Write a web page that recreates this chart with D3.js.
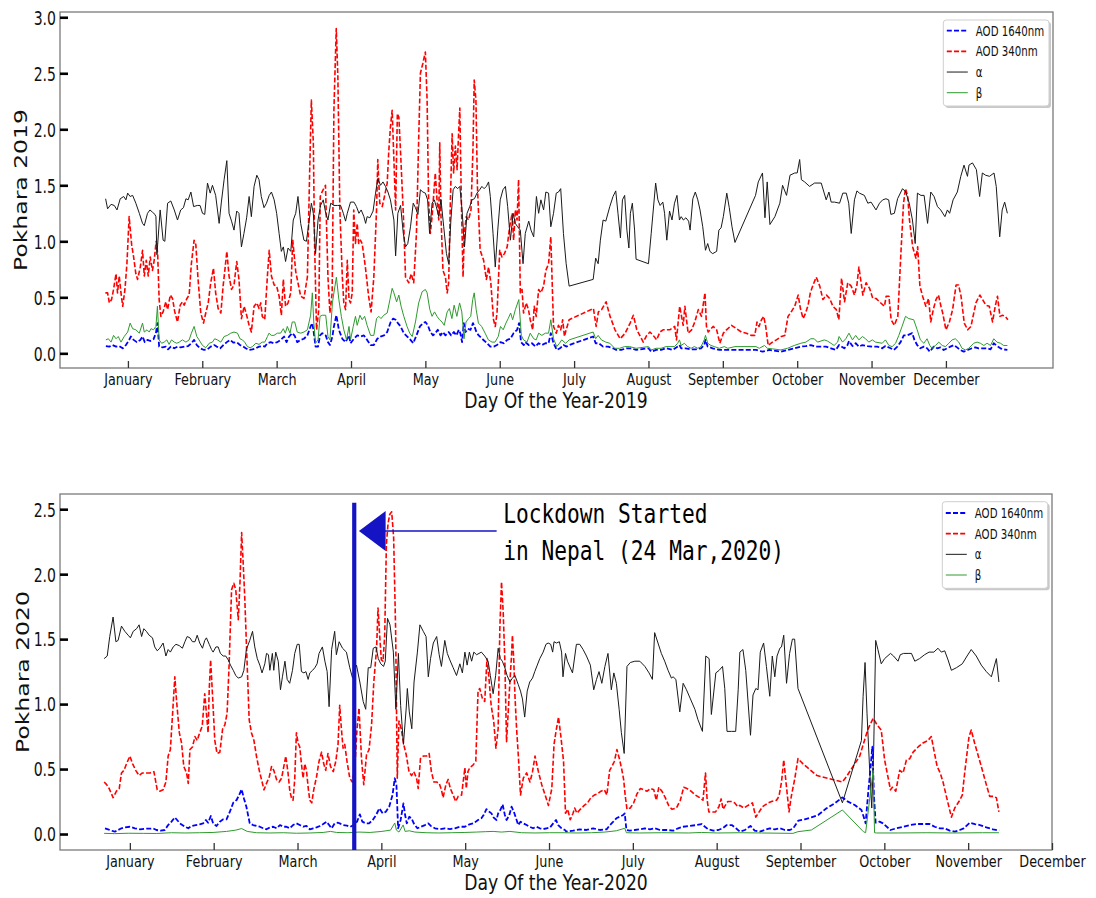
<!DOCTYPE html>
<html>
<head>
<meta charset="utf-8">
<script src="https://cdn.jsdelivr.net/npm/d3@7"></script>
<style>
  html, body { margin: 0; padding: 0; background: #fff; }
  svg { display: block; }
</style>
</head>
<body>
<svg id="fig" width="1096" height="898"></svg>
<script>
// ---- tick labels and annotation text ----
const monthLabels = ["January","February","March","April","May","June","July","August","September","October","November","December"];
const monthTickDays = [10,40,70,100,130,160,190,220,250,280,310,340];
const yTicks2019 = [0,0.5,1.0,1.5,2.0,2.5,3.0];
const yTicks2020 = [0,0.5,1.0,1.5,2.0,2.5];
const legendLabels = ["AOD 1640nm","AOD 340nm","\u03b1","\u03b2"];
const lockdownDay2020 = 90.3;
const lockdownText = ["Lockdown Started","in Nepal (24 Mar,2020)"];

// ---- Pokhara 2019: [day, value] ----
const aod1640_2019 = [[1.1,0.065],[2.5,0.06],[3.8,0.074],[5.2,0.06],[6.5,0.065],[7.9,0.045],[9.2,0.074],[10.5,0.12],[11.2,0.15],[12.3,0.12],[13.6,0.10],[15,0.12],[15.9,0.15],[16.8,0.10],[17.9,0.12],[19,0.11],[20.3,0.125],[21.3,0.18],[21.9,0.27],[22.6,0.06],[24,0.053],[25.3,0.06],[26.2,0.035],[27.3,0.06],[28.7,0.045],[30,0.06],[31.3,0.053],[33,0.06],[34.3,0.065],[35.6,0.09],[36.7,0.12],[37.8,0.074],[39.1,0.045],[40.7,0.03],[42.1,0.035],[43.4,0.06],[44.8,0.074],[45.8,0.06],[47.2,0.045],[48.5,0.074],[49.9,0.10],[51.2,0.12],[52.6,0.095],[53.9,0.10],[55.2,0.074],[56.2,0.065],[57.5,0.045],[58.9,0.03],[60.2,0.035],[61.6,0.045],[62.9,0.06],[64.2,0.065],[65.2,0.06],[66.3,0.09],[67.6,0.10],[68.9,0.09],[70.3,0.10],[71.6,0.12],[73,0.15],[74,0.10],[75,0.15],[76.3,0.18],[77.3,0.155],[78.3,0.10],[79.7,0.12],[81,0.13],[82.4,0.16],[83.7,0.24],[84.4,0.27],[85,0.18],[85.7,0.06],[86.7,0.06],[87.5,0.16],[88.4,0.18],[89.8,0.16],[90.7,0.10],[91.5,0.074],[92.5,0.15],[93.1,0.24],[94.1,0.34],[95.1,0.21],[96.5,0.13],[97.8,0.10],[99.2,0.16],[99.8,0.09],[101.2,0.13],[102.5,0.16],[103.9,0.15],[105.2,0.16],[106.5,0.12],[107.9,0.074],[109.2,0.074],[110.6,0.13],[111.9,0.15],[113.3,0.16],[114.6,0.19],[116,0.28],[117,0.31],[118,0.30],[118.9,0.27],[120,0.24],[121.3,0.18],[122.7,0.15],[124,0.12],[125.1,0.09],[126.4,0.16],[127.8,0.24],[129.1,0.27],[130,0.28],[131,0.25],[132,0.19],[133.1,0.16],[134,0.18],[135,0.21],[136.1,0.16],[137.1,0.19],[138.1,0.16],[139.4,0.19],[140.4,0.16],[141.5,0.19],[142.5,0.16],[143.5,0.21],[144.1,0.18],[144.8,0.10],[145.5,0.27],[146.2,0.19],[147.1,0.22],[148.2,0.21],[149.2,0.27],[149.8,0.24],[150.6,0.19],[151.5,0.16],[152.9,0.13],[154.9,0.09],[156.2,0.06],[157.6,0.06],[158.9,0.074],[160.3,0.10],[161.6,0.09],[163,0.12],[164.3,0.13],[165.6,0.18],[167,0.21],[167.8,0.27],[168.6,0.10],[169.7,0.074],[170.3,0.10],[171.7,0.074],[173,0.09],[174.4,0.06],[175.7,0.09],[177,0.074],[178.4,0.09],[179.7,0.09],[180.6,0.18],[181.7,0.09],[183,0.03],[184.3,0.045],[185.7,0.074],[187,0.06],[188,0.074],[197.7,0.15],[198.7,0.09],[200,0.09],[201.7,0.06],[203.7,0.06],[205.7,0.045],[207,0.03],[209,0.03],[211.1,0.045],[213.1,0.045],[215,0.03],[220,0.045],[221.1,0.015],[223.1,0.03],[225.1,0.03],[227.1,0.045],[229.8,0.03],[231.8,0.06],[232.5,0.074],[233.2,0.045],[235.1,0.045],[237.2,0.036],[239.2,0.036],[241.2,0.045],[242.5,0.074],[243,0.12],[243.9,0.06],[245.9,0.045],[248.6,0.03],[251.3,0.03],[254.9,0.03],[263.4,0.03],[266,0.015],[268.7,0.03],[273.4,0.015],[276.1,0.03],[278.8,0.045],[281.5,0.06],[283.5,0.065],[285.5,0.074],[287.5,0.06],[289.6,0.06],[291.6,0.06],[293.6,0.045],[295.6,0.03],[296.9,0.074],[299,0.045],[300.3,0.074],[300.9,0.11],[302.3,0.065],[303.6,0.09],[304.9,0.06],[306.3,0.074],[308.3,0.065],[310.3,0.06],[312.3,0.06],[314.3,0.045],[315.6,0.065],[317.7,0.045],[319,0.03],[320.4,0.06],[321.7,0.10],[323,0.16],[324.4,0.16],[326.4,0.18],[327.3,0.12],[328.4,0.074],[329.7,0.045],[331.1,0.06],[332.4,0.045],[333.5,0.015],[335.1,0.06],[336.5,0.045],[337.8,0.053],[339.1,0.03],[340.5,0.045],[341.8,0.06],[343.2,0.074],[344.5,0.053],[345.8,0.03],[347.2,0.015],[348.8,0.03],[350.5,0.045],[351.9,0.053],[353.2,0.045],[356.6,0.045],[358,0.035],[359.3,0.09],[360.6,0.065],[362,0.045],[363.3,0.035],[364.8,0.03]];

const aod340_2019 = [[0.9,0.54],[1.8,0.54],[2.5,0.45],[3.4,0.48],[4.2,0.57],[5.2,0.71],[5.8,0.54],[6.5,0.69],[7.2,0.54],[7.9,0.42],[8.8,0.57],[9.6,0.80],[10.5,1.22],[11.5,0.97],[12.3,0.86],[13.2,0.71],[13.9,0.66],[15,0.77],[15.9,0.92],[16.6,0.69],[17.4,0.83],[18.2,0.69],[19,0.86],[19.9,0.74],[20.6,0.83],[21.4,1.00],[22,0.89],[22.6,0.48],[23.3,0.33],[24.2,0.37],[25.3,0.46],[26,0.39],[27.1,0.52],[28,0.49],[28.9,0.37],[30,0.28],[31.1,0.43],[32,0.46],[32.7,0.43],[33.8,0.49],[34.7,0.52],[35.6,0.80],[36.7,1.01],[37.4,0.97],[38.3,0.66],[39.4,0.36],[40.5,0.27],[41.4,0.36],[42.4,0.45],[43.4,0.63],[44.5,0.76],[45.4,0.54],[46.4,0.40],[47.5,0.36],[48.4,0.60],[49.1,0.74],[49.9,0.91],[50.8,0.69],[51.8,0.57],[52.8,0.61],[53.9,0.82],[54.8,0.66],[55.8,0.31],[56.9,0.42],[57.9,0.34],[58.9,0.25],[59.8,0.19],[60.9,0.42],[62,0.45],[62.9,0.40],[63.6,0.45],[64.2,0.33],[65.2,0.30],[66.3,0.70],[67,0.92],[67.9,0.69],[69,0.61],[70,0.60],[71,0.51],[71.9,0.34],[72.7,0.66],[73.6,0.42],[74.6,0.45],[75.7,0.54],[76.5,1.01],[77.7,0.73],[78.6,0.63],[79.7,0.51],[81,0.49],[82.4,0.68],[83.3,1.60],[84,2.26],[84.8,1.88],[85.3,0.98],[86.1,0.21],[87,0.39],[87.6,1.40],[88.3,1.44],[89.7,1.50],[90.7,0.68],[91.5,0.36],[92.4,0.54],[93.1,2.17],[94.05,2.90],[94.7,2.47],[95.5,1.28],[96.5,0.68],[97.1,0.45],[97.8,0.39],[98.5,0.83],[99.2,0.48],[99.8,0.45],[100.5,0.54],[101.1,1.28],[101.8,0.98],[102.5,1.16],[103.1,0.98],[103.8,1.01],[104.5,0.98],[105.8,0.77],[107.1,0.51],[108.1,0.37],[109.2,0.68],[110.3,1.28],[110.8,1.73],[111.6,1.34],[112.6,1.31],[113.5,1.40],[114.6,1.52],[115.2,1.79],[115.9,2.02],[116.6,2.17],[117.3,1.73],[118,1.28],[118.7,2.14],[119.3,2.11],[120,1.79],[121.1,1.25],[122,0.68],[123.3,0.63],[124.3,0.71],[125.3,0.63],[126.4,1.07],[127.3,1.91],[128,2.50],[129,2.59],[130,2.69],[130.7,2.26],[131.3,1.37],[132,1.07],[132.7,1.22],[133.4,1.43],[134,1.61],[134.7,1.37],[135.4,1.19],[135.8,1.88],[136.3,1.22],[137.1,0.74],[138.1,0.68],[138.8,0.54],[139.4,0.63],[140.1,1.37],[140.8,1.96],[141.4,1.61],[142.1,1.85],[142.8,1.64],[143.4,1.96],[143.9,2.19],[144.5,1.37],[145.2,0.68],[145.7,1.07],[146.5,1.22],[147.4,1.19],[148.4,1.28],[149.2,1.82],[149.7,2.44],[150.4,2.26],[151,1.49],[152.1,0.92],[153.5,0.83],[154.6,0.66],[155.5,0.77],[156.4,0.63],[157.5,0.30],[158.2,0.24],[158.9,0.36],[160,0.92],[160.9,0.86],[161.9,0.89],[163,0.95],[164,1.13],[165,1.25],[165.6,1.01],[166.3,1.28],[167,1.19],[167.6,1.55],[168.3,0.54],[169,0.57],[169.6,0.36],[170.7,0.45],[171.6,0.39],[172.3,0.30],[173.3,0.21],[173.9,0.42],[174.7,0.33],[175.7,0.57],[176.6,0.54],[177.7,0.60],[178.6,0.74],[179.7,0.80],[180.6,1.04],[181.7,0.24],[182.8,0.18],[183.7,0.25],[184.6,0.21],[185.4,0.30],[186.1,0.15],[186.8,0.21],[188,0.30],[197.8,0.40],[198.9,0.24],[199.8,0.37],[201.1,0.39],[202.9,0.46],[204.5,0.33],[206.5,0.21],[208.6,0.13],[210.6,0.18],[212.6,0.27],[213.9,0.34],[215.3,0.21],[217.9,0.10],[219.3,0.16],[220.6,0.19],[221.9,0.16],[223.3,0.12],[224.6,0.19],[225.9,0.21],[228.6,0.21],[230.6,0.24],[231.3,0.12],[232.6,0.42],[234,0.25],[234.7,0.42],[236,0.18],[237.4,0.21],[238.7,0.28],[240.1,0.39],[241.4,0.33],[242.8,0.54],[243.4,0.24],[244.1,0.19],[246.1,0.24],[247.5,0.21],[248.8,0.09],[250.2,0.18],[251.5,0.21],[253.5,0.25],[255.5,0.22],[257.5,0.19],[259.5,0.18],[261.5,0.16],[262.9,0.16],[263.8,0.28],[264.6,0.24],[265.6,0.30],[266.5,0.33],[267.3,0.24],[268.3,0.07],[270,0.10],[271.6,0.12],[273.6,0.15],[275,0.16],[276.3,0.33],[277.3,0.36],[279,0.42],[280.4,0.52],[281.3,0.40],[282.4,0.31],[283.4,0.36],[284.4,0.43],[285.3,0.54],[286.4,0.61],[287.7,0.68],[289.1,0.60],[290.4,0.48],[291.8,0.52],[293.1,0.49],[294.4,0.42],[295.8,0.39],[296.8,0.30],[297.9,0.67],[299.1,0.46],[300.4,0.63],[301.8,0.60],[303.1,0.52],[304.1,0.61],[304.9,0.77],[305.8,0.63],[306.5,0.52],[307.8,0.63],[309.2,0.58],[310.5,0.49],[311.8,0.49],[313.2,0.46],[315.2,0.42],[315.9,0.51],[317,0.51],[317.9,0.30],[319.2,0.25],[320.6,0.33],[321.9,0.92],[322.9,1.34],[323.7,1.47],[324.6,1.40],[325.3,1.19],[326.6,0.95],[327.9,0.85],[328.6,0.95],[329.5,0.60],[330.6,0.51],[331.9,0.42],[333,0.49],[333.9,0.28],[334.9,0.39],[336,0.48],[337,0.52],[338,0.42],[338.7,0.36],[340,0.21],[341.4,0.28],[342.7,0.39],[344.1,0.61],[345.1,0.61],[346.1,0.51],[347.4,0.27],[348.8,0.21],[350.1,0.24],[352.1,0.45],[353.7,0.52],[354.8,0.48],[356.1,0.43],[357.5,0.42],[358.8,0.28],[359.9,0.42],[360.8,0.51],[361.8,0.33],[362.8,0.34],[363.9,0.33],[365,0.30]];

const alpha2019 = [[1,1.38],[1.8,1.29],[3.2,1.33],[4.5,1.32],[5.6,1.28],[6.9,1.38],[8.3,1.40],[9.2,1.37],[9.9,1.43],[10.9,1.40],[11.9,1.41],[13.2,1.34],[14.6,1.25],[15.9,1.16],[16.6,1.14],[17.9,1.25],[18.9,1.28],[19.9,1.26],[20.9,1.24],[21.3,1.22],[21.7,0.88],[23,1.28],[24.2,1.01],[24.9,1.00],[26,1.34],[27.3,1.36],[28.7,1.28],[30,1.19],[31.3,1.28],[32.4,1.30],[33.4,1.38],[34.3,1.37],[35.4,1.44],[36.5,1.31],[38,1.32],[39.1,1.32],[40.1,1.25],[41,1.24],[42.1,1.52],[43.2,1.43],[44.1,1.50],[45.4,1.41],[46.8,1.16],[47.7,1.35],[48.8,1.55],[49.9,1.72],[50.8,1.25],[51.8,1.18],[52.8,1.10],[53.9,1.27],[54.8,1.25],[55.8,0.95],[56.8,1.07],[57.9,1.21],[58.9,1.40],[59.8,1.22],[60.9,1.49],[62,1.59],[62.9,1.55],[63.8,1.40],[64.9,1.30],[65.9,1.34],[67,1.41],[67.9,1.44],[69,1.37],[70,1.25],[71,1.07],[71.9,0.91],[72.7,0.95],[73.6,0.82],[74.6,0.94],[75.7,0.91],[76.7,1.19],[77.7,1.25],[78.6,1.40],[79.7,1.16],[81,1.01],[82,1.00],[83,1.16],[84,1.34],[84.8,1.25],[85.7,0.89],[86.7,1.19],[87.7,1.32],[88.8,1.37],[89.8,1.25],[90.7,1.19],[91.8,1.34],[93.1,1.32],[94.5,1.32],[95.8,1.32],[96.9,1.25],[97.8,1.18],[98.5,1.25],[99.8,1.35],[101.2,1.35],[102.2,1.31],[103.2,1.25],[104.1,1.28],[105.2,1.22],[105.9,1.16],[106.5,1.22],[107.6,1.21],[108.9,1.27],[109.9,1.43],[110.8,1.56],[111.9,1.50],[112.9,1.53],[113.9,1.49],[114.9,1.44],[115.9,1.37],[117.3,1.19],[118,0.87],[118.9,1.25],[120,1.32],[121.1,1.07],[122,0.95],[122.9,0.98],[124,1.13],[125.1,1.34],[126,1.30],[127,1.24],[128,1.46],[129,1.44],[130,1.43],[130.9,1.37],[131.7,1.07],[132.7,1.34],[133.6,1.37],[134.4,1.31],[135.4,1.22],[136.3,1.37],[137.4,1.13],[138.5,0.89],[139.4,0.80],[140.3,1.19],[141.2,1.46],[142.1,1.49],[143,1.47],[143.9,1.49],[144.8,1.28],[145.8,0.95],[146.8,1.25],[147.9,1.31],[148.8,1.37],[149.8,1.38],[150.8,1.43],[151.9,1.46],[152.8,1.49],[153.7,1.47],[154.6,1.49],[155.5,1.53],[156.2,1.40],[157.3,1.07],[158.2,0.77],[159.2,1.10],[160.2,1.37],[161.3,1.46],[162.3,1.49],[163.2,1.31],[164.3,1.01],[165.4,1.25],[166.3,1.16],[167.2,1.13],[168.3,1.10],[169.4,0.80],[170.3,1.07],[171.7,1.18],[172.6,1.10],[173.7,1.04],[174.8,1.40],[175.7,1.25],[176.6,1.37],[177.7,1.28],[178.6,1.44],[179.7,1.43],[180.6,1.13],[181.7,1.25],[182.8,1.43],[183.7,1.44],[184.6,1.47],[185.7,1.07],[186.8,0.80],[188,0.60],[197.7,0.66],[198.7,0.85],[199.7,0.80],[200.6,1.01],[201.7,1.19],[202.8,1.18],[204.4,1.31],[205.7,1.40],[206.8,1.45],[207.7,1.25],[208.7,1.03],[209.5,1.37],[210.4,1.41],[211.3,1.10],[212.1,0.94],[212.7,1.25],[213.5,1.34],[214.4,1.10],[215,0.84],[220,0.80],[221.1,1.07],[222.9,1.52],[223.8,1.37],[224.7,1.32],[225.8,1.35],[226.5,1.25],[227.4,1.01],[228.5,1.27],[229.5,1.19],[230.5,1.34],[231.5,1.41],[232.5,1.19],[233.2,1.22],[234.1,1.19],[235.1,1.21],[236.2,1.18],[236.8,1.10],[237.9,1.38],[238.9,1.44],[239.9,1.37],[240.8,1.28],[241.9,1.13],[243,0.92],[243.9,0.98],[244.8,0.91],[245.9,0.89],[247.5,0.91],[248.4,1.10],[249.3,1.12],[250.2,1.22],[251.6,1.43],[252.6,1.30],[253.7,1.13],[254.9,0.99],[263.2,1.41],[264.3,1.53],[266,1.61],[267,1.21],[267.9,1.53],[269,1.15],[271,1.22],[273,1.34],[274.1,1.50],[275.7,1.41],[277.1,1.59],[279,1.61],[280,1.61],[281,1.73],[281.7,1.55],[283,1.53],[285,1.49],[287,1.52],[289.7,1.52],[291.7,1.37],[292.8,1.44],[293.7,1.35],[295.1,1.35],[297.1,1.34],[298.4,1.43],[299.8,1.43],[300.8,1.34],[301.8,1.07],[303.1,1.37],[304.1,1.45],[305.1,1.43],[307.1,1.41],[308.5,1.34],[309.8,1.35],[311.8,1.28],[313.2,1.34],[314.5,1.37],[315.8,1.38],[316.9,1.37],[317.8,1.24],[319.2,1.25],[320.5,1.38],[322.5,1.47],[323.8,1.44],[325.2,1.34],[326.5,1.19],[327.6,0.98],[328.5,1.43],[329.9,1.41],[331.2,1.41],[332.6,1.16],[333.9,1.44],[335.2,1.40],[336.6,1.31],[337.9,1.28],[339.6,1.22],[340.6,1.28],[341.5,1.25],[342.9,1.37],[344.6,1.44],[346,1.58],[347.3,1.68],[348.7,1.58],[349.3,1.68],[350.7,1.70],[352.3,1.64],[353.6,1.40],[354.7,1.61],[356,1.59],[357.6,1.58],[359.4,1.61],[360.3,1.49],[361.7,1.04],[362.7,1.28],[363.7,1.35],[364.8,1.25]];

const beta2019 = [[1.1,0.12],[2.1,0.13],[3.2,0.10],[4.2,0.16],[5.2,0.13],[6.1,0.15],[7.2,0.10],[8.5,0.15],[9.9,0.19],[10.9,0.27],[11.9,0.22],[13.2,0.21],[14.6,0.18],[15.9,0.27],[16.6,0.19],[17.7,0.21],[18.6,0.19],[19.3,0.22],[20.3,0.21],[21.3,0.24],[21.9,0.42],[22.6,0.12],[23.6,0.09],[24.6,0.10],[25.7,0.12],[26.6,0.08],[27.6,0.12],[28.7,0.10],[29.7,0.09],[30.7,0.10],[32,0.12],[33.4,0.10],[34.7,0.12],[35.6,0.18],[36.7,0.24],[37.8,0.15],[38.7,0.12],[40.1,0.07],[41.4,0.05],[42.8,0.09],[44.1,0.10],[45,0.13],[46.1,0.12],[47.5,0.10],[48.8,0.15],[50.1,0.16],[51.5,0.18],[52.8,0.19],[54.2,0.18],[55.2,0.13],[56.2,0.12],[57.1,0.10],[58.2,0.06],[59.3,0.05],[60.2,0.06],[61.6,0.09],[62.9,0.08],[64.2,0.10],[65.2,0.10],[66.3,0.15],[66.9,0.18],[67.9,0.16],[68.9,0.16],[70.3,0.18],[71.6,0.18],[72.7,0.22],[73.5,0.18],[74.3,0.24],[75.4,0.18],[76.3,0.28],[77.3,0.28],[78.3,0.19],[79.7,0.18],[81,0.19],[82.4,0.21],[83.7,0.34],[84.4,0.54],[85,0.27],[85.7,0.09],[86.7,0.12],[87.5,0.33],[88.4,0.34],[89.8,0.34],[90.7,0.15],[91.5,0.12],[92.5,0.45],[93.1,0.54],[94.1,0.68],[95.1,0.48],[96.1,0.33],[97.1,0.21],[98.2,0.12],[99.2,0.24],[99.8,0.12],[100.9,0.24],[101.8,0.33],[102.5,0.25],[103.6,0.34],[104.5,0.30],[105.5,0.33],[106.5,0.25],[107.9,0.16],[109.2,0.16],[110.3,0.31],[111.2,0.33],[112.1,0.31],[113.2,0.34],[114.6,0.36],[115.7,0.48],[116.6,0.58],[117.3,0.54],[118.4,0.46],[119.3,0.52],[120.2,0.42],[121.3,0.33],[122.6,0.24],[123.7,0.18],[124.7,0.15],[126,0.28],[127.3,0.45],[128.7,0.55],[130,0.57],[130.7,0.54],[131.8,0.39],[132.7,0.33],[133.7,0.37],[134.7,0.33],[135.7,0.30],[136.7,0.28],[137.6,0.25],[138.8,0.37],[139.7,0.40],[140.7,0.31],[141.6,0.43],[142.7,0.33],[143.8,0.45],[144.7,0.37],[145.6,0.13],[146.4,0.28],[147.4,0.31],[148.3,0.33],[149.1,0.48],[149.7,0.54],[150.5,0.39],[151.4,0.27],[152.7,0.24],[154.1,0.18],[155.4,0.12],[156.9,0.10],[158.1,0.10],[159.4,0.15],[160.3,0.24],[161.4,0.21],[162.5,0.27],[163.4,0.31],[164.4,0.36],[165.2,0.30],[166.3,0.39],[167.7,0.48],[168.7,0.16],[169.6,0.12],[171,0.10],[172.3,0.18],[173.7,0.13],[174.7,0.12],[175.7,0.18],[177,0.16],[178.4,0.18],[179.7,0.18],[180.6,0.30],[181.7,0.13],[183,0.06],[184.1,0.09],[185,0.12],[186.6,0.09],[188,0.12],[197.7,0.19],[198.7,0.13],[199.7,0.16],[201,0.12],[202.8,0.10],[204.4,0.09],[206.4,0.045],[208.4,0.045],[210.4,0.06],[212.4,0.06],[215,0.045],[220,0.06],[221.1,0.03],[223.1,0.045],[225.1,0.045],[227.1,0.06],[229.1,0.06],[230.5,0.06],[231.8,0.09],[232.5,0.12],[233.2,0.07],[234.5,0.09],[235.8,0.06],[237.2,0.045],[238.5,0.06],[239.9,0.045],[241.2,0.06],[242.5,0.12],[243,0.16],[243.9,0.09],[245.2,0.07],[246.6,0.06],[248.6,0.045],[250.6,0.06],[252,0.045],[254.9,0.06],[263.4,0.06],[264.7,0.045],[266.8,0.07],[268,0.045],[270,0.04],[273.4,0.03],[276.1,0.045],[278.8,0.07],[281.5,0.09],[283.5,0.10],[285.5,0.13],[286.9,0.13],[288.2,0.10],[289.6,0.11],[290.9,0.12],[292.2,0.11],[293.6,0.09],[294.9,0.07],[296.3,0.10],[296.9,0.15],[298.3,0.10],[299.6,0.13],[300.9,0.18],[302.3,0.12],[303.6,0.16],[304.9,0.12],[306.3,0.15],[307.6,0.13],[308.9,0.10],[310.3,0.12],[311.6,0.10],[314.3,0.09],[315.6,0.12],[317,0.07],[318.3,0.06],[319.7,0.09],[321,0.16],[322.3,0.24],[323.7,0.33],[325,0.31],[327,0.30],[328.4,0.21],[329.7,0.12],[331.1,0.09],[332.4,0.13],[333.5,0.07],[334.4,0.045],[335.8,0.07],[337.1,0.10],[338.5,0.07],[339.8,0.06],[341.2,0.09],[342.5,0.12],[343.8,0.13],[345.2,0.10],[346.5,0.045],[347.9,0.03],[349.2,0.045],[351.2,0.09],[352.6,0.10],[353.9,0.09],[355.3,0.07],[356.6,0.09],[358,0.07],[359.3,0.13],[360.6,0.10],[362,0.09],[363.3,0.07],[364.8,0.07]];

// ---- Pokhara 2020: [day, value] ----
const aod1640_2020 = [[1.1,0.044],[2.2,0.036],[3.4,0.026],[4.6,0.018],[5.8,0.031],[7,0.044],[8.2,0.051],[10,0.056],[11.8,0.044],[13.6,0.036],[15.4,0.041],[17.2,0.041],[18.3,0.044],[19.5,0.031],[21,0.026],[22.5,0.031],[23.7,0.069],[24.9,0.095],[26.1,0.128],[26.9,0.108],[27.9,0.082],[29.7,0.056],[30.9,0.044],[32.1,0.062],[33.6,0.069],[35,0.074],[36.2,0.082],[37.2,0.108],[38,0.087],[39,0.139],[39.8,0.082],[41,0.062],[42.2,0.095],[43.4,0.113],[44.6,0.113],[45.8,0.172],[47,0.241],[48.2,0.262],[49.1,0.30],[50,0.344],[50.8,0.275],[51.7,0.21],[52.9,0.082],[54.1,0.069],[55.3,0.062],[56.5,0.056],[57.7,0.044],[58.9,0.036],[60.1,0.051],[61.3,0.056],[62.5,0.044],[63.7,0.069],[64.9,0.056],[66,0.056],[67.2,0.044],[68.4,0.069],[69.6,0.082],[70.8,0.069],[72,0.056],[73.2,0.062],[74.4,0.036],[75.6,0.044],[76.8,0.051],[78,0.062],[79.2,0.077],[80.4,0.095],[81.3,0.069],[82.2,0.044],[83.3,0.082],[84.5,0.087],[85.1,0.082],[86.3,0.069],[87.7,0.064],[88.9,0.056],[90.1,0.069],[91.3,0.095],[92.3,0.151],[93.2,0.095],[94.4,0.082],[95.6,0.082],[96.9,0.108],[98.1,0.146],[99.3,0.198],[100.5,0.159],[101.6,0.172],[102.8,0.21],[104,0.30],[104.8,0.429],[105.4,0.377],[106,0.044],[106.9,0.108],[107.9,0.236],[108.5,0.146],[109.1,0.082],[110,0.133],[110.8,0.121],[111.6,0.082],[112.9,0.044],[114.1,0.056],[115.6,0.069],[116.8,0.082],[117.8,0.06],[119.2,0.044],[121,0.038],[122.7,0.044],[124.5,0.038],[126.3,0.044],[128.1,0.056],[129.9,0.056],[131.5,0.074],[133,0.082],[134.6,0.108],[135.8,0.121],[136.6,0.146],[137.6,0.192],[138.6,0.172],[139.4,0.159],[140.2,0.126],[141.2,0.108],[141.8,0.159],[142.6,0.185],[143.4,0.228],[144.2,0.146],[144.8,0.108],[145.8,0.146],[146.6,0.21],[147.4,0.172],[148.4,0.108],[149,0.069],[149.8,0.095],[150.8,0.082],[152,0.069],[153.1,0.056],[154.3,0.044],[155.5,0.056],[156.7,0.044],[157.9,0.038],[159.1,0.044],[160.3,0.049],[161.5,0.082],[162.5,0.108],[163.3,0.069],[164.5,0.044],[165.7,0.031],[166.2,0.018],[168.6,0.026],[171,0.036],[173.4,0.031],[175.8,0.044],[178.2,0.031],[180.6,0.036],[181.8,0.069],[183,0.095],[184.1,0.121],[185.3,0.133],[186.5,0.146],[187.1,0.159],[187.7,0.031],[188.9,0.026],[190.7,0.031],[192.5,0.036],[194.3,0.044],[196.1,0.036],[197.9,0.044],[199.7,0.031],[202.1,0.031],[204.5,0.026],[206.2,0.044],[208,0.056],[210.4,0.062],[212.8,0.069],[214.6,0.077],[215.8,0.056],[217,0.036],[218.8,0.026],[220.6,0.031],[222.1,0.044],[223.6,0.069],[225.4,0.069],[226.9,0.044],[228.3,0.018],[230.1,0.031],[232.1,0.062],[233.6,0.026],[235.4,0.018],[237.2,0.031],[239,0.044],[240.8,0.036],[242.6,0.044],[244.4,0.031],[246.2,0.031],[247.4,0.044],[249.2,0.103],[251.5,0.113],[253.9,0.128],[256.3,0.146],[259.3,0.198],[262.2,0.236],[265,0.282],[267,0.249],[269.4,0.223],[271.8,0.185],[272.6,0.133],[273.3,0.082],[274.2,0.313],[275.1,0.518],[275.7,0.672],[276.3,0.287],[276.9,0.087],[278.3,0.095],[279.5,0.082],[282.2,0.031],[284.3,0.044],[286.7,0.056],[289.1,0.069],[291.5,0.077],[293.9,0.077],[296.2,0.077],[298,0.056],[299.8,0.044],[301.6,0.044],[303.4,0.026],[305.2,0.018],[307,0.031],[308.4,0.044],[310.6,0.087],[312.4,0.077],[314.2,0.069],[316.5,0.051],[318.9,0.036],[321.1,0.026]];

const aod340_2020 = [[0.8,0.40],[1.7,0.38],[2.6,0.35],[4,0.28],[5.2,0.33],[6.2,0.35],[7,0.47],[7.9,0.49],[8.8,0.54],[10,0.60],[11,0.54],[12.1,0.49],[13.3,0.45],[14.5,0.47],[15.9,0.47],[17.2,0.47],[18.6,0.48],[19.8,0.34],[20.7,0.33],[21.9,0.34],[22.9,0.40],[23.7,0.60],[24.5,0.65],[25.3,0.93],[26.1,1.21],[26.7,1.03],[27.7,0.78],[28.5,0.70],[29.3,0.52],[30.3,0.47],[30.9,0.39],[31.5,0.65],[32.4,0.67],[33.3,0.75],[34.1,0.72],[35,0.78],[35.9,0.83],[36.8,1.08],[37.4,0.93],[38,0.78],[38.4,1.11],[38.9,1.34],[39.6,1.06],[40.4,0.72],[41.2,0.62],[42.2,0.63],[43.2,0.81],[44,0.84],[44.8,0.93],[45.5,1.29],[46.4,1.88],[47.2,1.93],[47.9,1.88],[48.8,1.65],[49.4,1.93],[50,2.32],[50.5,2.11],[51.1,1.83],[51.7,1.47],[52.7,0.88],[53.5,0.78],[54.4,0.72],[55.3,0.60],[56.3,0.49],[57.1,0.42],[58,0.34],[58.9,0.39],[59.9,0.44],[60.7,0.52],[61.5,0.49],[62.5,0.42],[63.4,0.40],[64.3,0.43],[65.1,0.52],[65.8,0.60],[66.6,0.47],[67.2,0.34],[67.8,0.28],[68.4,0.26],[69,0.42],[69.6,0.78],[70.2,0.70],[70.8,0.67],[71.4,0.54],[72,0.43],[72.6,0.54],[73.2,0.49],[73.9,0.34],[74.4,0.26],[75.1,0.24],[75.8,0.34],[76.8,0.44],[77.7,0.56],[78.6,0.63],[79.4,0.54],[80.1,0.49],[80.9,0.62],[81.8,0.52],[82.8,0.48],[83.7,0.56],[84.5,0.69],[85.1,0.99],[85.7,0.81],[86.3,0.66],[86.9,0.69],[87.7,0.56],[88.7,0.43],[89.6,0.40],[90.5,0.51],[91.3,0.81],[92,0.97],[92.9,0.58],[93.7,0.38],[94.7,0.61],[95.6,0.65],[96.5,0.84],[97.3,1.17],[98.3,1.43],[98.8,1.74],[99.4,1.53],[100,1.34],[100.6,1.33],[101.2,1.53],[101.8,2.23],[102.4,2.39],[103,2.46],[103.7,2.48],[104.4,2.28],[105.1,1.58],[105.7,0.43],[106.3,0.87],[107.1,0.81],[108,0.69],[108.9,0.61],[109.9,0.48],[110.8,0.45],[111.6,0.48],[112.6,0.43],[113.2,0.35],[114,0.58],[115,0.60],[116.2,0.60],[117.1,0.62],[117.9,0.48],[118.8,0.40],[119.8,0.40],[120.7,0.39],[121.5,0.34],[122.1,0.28],[123.1,0.38],[123.9,0.42],[124.7,0.35],[125.7,0.30],[126.6,0.25],[127.5,0.29],[128.7,0.30],[129.9,0.51],[130.4,0.35],[131,0.48],[131.6,0.51],[132.8,0.53],[133.8,0.56],[134.6,1.10],[135.2,1.12],[136.2,1.04],[137,1.02],[137.8,1.35],[138.5,1.20],[139.3,0.99],[140.2,0.87],[141,0.66],[141.8,0.81],[142.4,1.58],[143,1.94],[143.6,1.71],[144.2,1.33],[144.8,0.71],[145.4,0.94],[146,1.17],[146.6,1.38],[146.9,1.53],[147.4,1.33],[147.8,1.07],[148.4,0.81],[149,0.61],[149.8,0.30],[150.8,0.43],[152,0.47],[153.2,0.40],[154.1,0.48],[155,0.60],[156.2,0.48],[157.4,0.38],[158.6,0.30],[159.8,0.22],[161,0.35],[161.8,0.69],[162.5,0.79],[163.4,0.90],[164.2,0.76],[165.2,0.56],[165.9,0.16],[166.7,0.19],[167.6,0.11],[168.6,0.16],[169.2,0.20],[170,0.16],[171.2,0.19],[172.6,0.22],[173.8,0.24],[175,0.28],[176.2,0.30],[177.4,0.31],[178.6,0.33],[179.8,0.34],[180.7,0.30],[181.7,0.49],[182.5,0.52],[183.4,0.56],[184.3,0.65],[185.3,0.57],[186.1,0.49],[186.7,0.42],[187.3,0.29],[187.9,0.19],[189.1,0.20],[190.3,0.24],[191.5,0.31],[192.7,0.35],[193.9,0.34],[195.1,0.33],[196.3,0.35],[197.5,0.34],[198.4,0.26],[199.3,0.36],[200.4,0.33],[201.6,0.28],[202.8,0.22],[204,0.19],[205.6,0.20],[207,0.26],[208.2,0.36],[209.4,0.35],[210.8,0.33],[212.4,0.30],[213.9,0.28],[215.1,0.26],[216,0.47],[216.6,0.26],[217.2,0.17],[218.4,0.17],[219.6,0.17],[220.8,0.21],[221.6,0.27],[222.3,0.19],[223.1,0.22],[224,0.25],[225.2,0.25],[226.4,0.24],[227.6,0.21],[228.3,0.22],[229.7,0.20],[231.2,0.22],[232.8,0.24],[234,0.13],[235.2,0.17],[236.4,0.21],[238.4,0.24],[239.6,0.25],[241.4,0.26],[242.3,0.29],[243.2,0.40],[244,0.57],[245.9,0.17],[246.7,0.29],[247.9,0.42],[249.1,0.58],[250.9,0.54],[255.9,0.45],[265,0.40],[266.4,0.44],[268.8,0.52],[271.2,0.60],[272.6,0.70],[274.2,0.81],[276,0.89],[277.4,0.84],[278.9,0.80],[280.1,0.57],[282.2,0.34],[282.9,0.36],[284.1,0.33],[285.5,0.49],[286.7,0.47],[287.9,0.57],[289.1,0.58],[290.3,0.63],[292.1,0.67],[293.8,0.70],[295.6,0.72],[296.8,0.75],[297.7,0.65],[298.9,0.52],[300,0.47],[301,0.40],[302.2,0.29],[304,0.13],[305.2,0.20],[306.7,0.25],[307.9,0.30],[308.8,0.48],[310.3,0.75],[311.1,0.80],[312.3,0.70],[313.5,0.61],[314.7,0.52],[316.5,0.38],[317.7,0.29],[318.9,0.29],[320.1,0.28],[321,0.17]];

const alpha2020 = [[0.8,1.35],[1.9,1.37],[2.8,1.52],[4,1.67],[5,1.48],[5.8,1.49],[7,1.60],[8.2,1.56],[9.4,1.53],[10.2,1.51],[11.2,1.56],[12.4,1.58],[13.3,1.61],[14.2,1.52],[15,1.58],[15.9,1.56],[16.9,1.53],[18.1,1.51],[18.9,1.44],[19.8,1.41],[20.7,1.43],[21.9,1.47],[22.9,1.37],[23.7,1.42],[24.5,1.40],[25.5,1.44],[26.5,1.46],[27.7,1.45],[28.8,1.43],[29.7,1.48],[30.5,1.52],[31.5,1.51],[32.4,1.48],[33.3,1.48],[34.1,1.53],[35,1.47],[36,1.43],[36.8,1.49],[37.4,1.51],[38.4,1.46],[39.2,1.42],[39.8,1.40],[40.8,1.44],[41.6,1.44],[42.4,1.39],[43.4,1.37],[44.3,1.37],[45.2,1.34],[46,1.30],[47,1.26],[47.9,1.22],[48.8,1.20],[50,1.21],[50.8,1.26],[51.7,1.42],[52.9,1.49],[53.9,1.56],[54.7,1.44],[55.6,1.35],[56.5,1.30],[57.3,1.24],[58.3,1.31],[58.9,1.39],[59.6,1.38],[60.1,1.26],[61,1.39],[61.5,1.26],[62.2,1.40],[63.1,1.33],[63.9,1.11],[64.6,1.21],[65.5,1.33],[66.3,1.19],[67.2,1.16],[68.2,1.26],[69,1.39],[69.9,1.46],[70.6,1.46],[71.4,1.25],[72.3,1.24],[73,1.25],[73.8,1.19],[74.4,1.24],[75.4,1.26],[76.2,1.28],[77,1.31],[77.7,1.39],[78.9,1.44],[79.8,1.33],[80.6,1.25],[81.3,0.98],[82.2,1.42],[83.3,1.56],[83.9,1.38],[84.9,1.48],[86.1,1.43],[87.5,1.40],[88.7,1.28],[89.7,1.20],[91.1,1.30],[92.3,1.17],[93.5,1.02],[94.4,0.96],[95.3,1.28],[96.2,1.28],[97.1,1.43],[98.1,1.44],[98.9,1.35],[99.8,1.31],[100.8,1.29],[101.4,1.33],[102.2,1.66],[103.1,1.61],[104.3,1.40],[105.2,0.96],[106.1,1.39],[106.9,0.99],[107.9,0.69],[108.9,0.97],[109.3,1.12],[110,0.94],[110.9,0.81],[111.7,1.17],[112.9,1.40],[113.8,1.61],[115,1.56],[116,1.52],[116.8,1.21],[117.6,1.35],[118.6,1.47],[119.8,1.52],[120.7,1.38],[121.5,1.29],[122.7,1.49],[123.6,1.39],[124.5,1.34],[125.7,1.28],[126.9,1.22],[128.1,1.31],[129,1.24],[129.9,1.40],[130.7,1.30],[131.5,1.40],[132.3,1.33],[133.1,1.40],[134.1,1.38],[135.8,1.40],[137,1.37],[138.2,1.33],[139,1.22],[140,1.08],[140.9,1.22],[141.8,1.43],[142.6,1.35],[143.3,1.33],[144.2,1.28],[145,1.22],[146,1.17],[146.9,1.20],[147.8,1.22],[149,1.15],[149.8,1.10],[150.5,1.04],[151.3,0.90],[152.2,1.10],[153.1,1.17],[154.1,1.20],[154.9,1.25],[155.8,1.30],[156.7,1.35],[157.9,1.40],[158.9,1.46],[159.7,1.47],[160.6,1.46],[161.3,1.40],[161.8,1.48],[162.7,1.47],[163.7,1.48],[164.5,1.40],[165,1.21],[165.9,1.39],[166.6,1.33],[168.4,1.24],[169.8,1.46],[171,1.46],[172.2,1.42],[173.4,1.37],[174.8,1.30],[176,1.11],[177,1.19],[177.9,1.25],[178.9,1.16],[180,1.29],[181.1,1.39],[182.3,1.11],[183.2,1.24],[184.1,1.16],[185.1,0.96],[185.9,0.78],[186.9,0.62],[187.9,1.29],[189.1,1.32],[190.7,1.33],[192.5,1.33],[194.3,1.29],[195.8,1.24],[197,1.19],[197.8,1.55],[199,1.47],[200.2,1.39],[201.4,1.33],[202.6,1.26],[203.8,1.20],[204.4,1.21],[205.4,1.19],[206.8,0.94],[208,1.16],[209.2,1.11],[210.6,1.04],[212.2,0.96],[213.3,0.88],[214.9,0.79],[216.1,1.37],[217.3,1.35],[218.1,0.92],[219.7,1.24],[220.9,1.26],[222.1,1.29],[222.9,1.12],[223.7,0.79],[225.3,0.79],[226.8,0.79],[227.7,1.11],[228.3,1.40],[229.4,1.42],[230.4,1.26],[232.1,0.76],[233,1.07],[234,1.12],[234.8,1.11],[235.6,1.40],[236.8,1.47],[237.8,1.29],[239,1.06],[239.9,1.37],[240.8,1.21],[241.6,1.37],[242.6,1.43],[243.2,1.44],[244,1.53],[245,1.16],[246.1,1.39],[247.1,1.50],[247.9,1.50],[249.1,1.12],[265,0.24],[271.8,0.72],[272.4,1.06],[273.1,1.32],[273.8,0.93],[274.8,0.47],[275.5,0.20],[276.2,0.67],[276.9,1.49],[277.7,1.42],[278.9,1.31],[280.1,1.35],[282.2,1.39],[283.3,1.37],[284.9,1.33],[285.7,1.38],[286.9,1.39],[288.5,1.39],[289.7,1.39],[290.9,1.33],[292.6,1.35],[294.4,1.38],[296,1.40],[297.7,1.40],[299.2,1.43],[300.4,1.40],[301.6,1.41],[302.8,1.34],[304,1.26],[305.8,1.28],[307.9,1.31],[309.6,1.37],[311.1,1.42],[312.9,1.37],[314.7,1.30],[316.5,1.25],[318.3,1.21],[320.1,1.35],[321,1.17]];

const beta2020 = [[0.8,0.005],[4.6,0.003],[9.5,0.006],[14.8,0.005],[19.6,0.004],[24.9,0.01],[29.7,0.008],[35,0.01],[39.8,0.012],[44.6,0.02],[47.9,0.03],[50,0.042],[52,0.02],[55.3,0.01],[60.1,0.008],[64.9,0.01],[69.6,0.006],[74.4,0.008],[79.2,0.012],[81.8,0.02],[84,0.012],[88,0.01],[92,0.015],[96,0.012],[100.2,0.02],[103.3,0.03],[104.8,0.085],[105.4,0.03],[106.3,0.015],[107.8,0.07],[108.5,0.02],[110,0.025],[112,0.015],[116,0.01],[120.4,0.008],[125,0.01],[129.9,0.012],[134,0.015],[137.2,0.018],[140,0.02],[143,0.015],[146,0.02],[150.2,0.01],[155,0.008],[160.1,0.01],[165,0.01],[170,0.008],[175.2,0.01],[180,0.015],[184.1,0.025],[187.1,0.044],[187.7,0.01],[192.3,0.008],[200.2,0.01],[210,0.008],[214.6,0.012],[220.3,0.008],[228.3,0.01],[236,0.008],[247.3,0.005],[249.1,0.018],[253.9,0.031],[265,0.185],[272.5,0.018],[273.3,0.01],[276,0.49],[276.5,0.01],[277.2,0.008],[285,0.008],[295.2,0.01],[305,0.008],[315.1,0.01],[321,0.01]];

// ---- drawing ----
const svg = d3.select("#fig");
const SANS = "'DejaVu Sans', sans-serif";
const MONO = "'DejaVu Sans Mono', monospace";

// narrow text horizontally around its own x anchor
function squeeze(sel, sx) {
  sel.attr("transform", function () {
    const x = parseFloat(this.getAttribute("x")) || 0;
    return `translate(${x},0) scale(${sx},1) translate(${-x},0)`;
  });
}

function drawPanel(o) {
  const g = svg.append("g");
  const x = d3.scaleLinear().domain(o.xDomain).range([o.left, o.right]);
  const y = d3.scaleLinear().domain(o.yDomain).range([o.bottom, o.top]);
  const line = d3.line().x(d => x(d[0])).y(d => y(d[1]));

  o.series.forEach(s => {
    g.append("path").datum(s.data)
      .attr("d", line)
      .attr("fill", "none")
      .attr("stroke", s.color)
      .attr("stroke-width", s.width)
      .attr("stroke-dasharray", s.dash || null)
      .attr("stroke-linejoin", "round");
  });

  // frame
  g.append("rect")
    .attr("x", o.left).attr("y", o.top)
    .attr("width", o.right - o.left).attr("height", o.bottom - o.top)
    .attr("fill", "none").attr("stroke", "#7a7a7a").attr("stroke-width", 1.3);

  // y axis (inward ticks)
  const ya = g.append("g").attr("transform", `translate(${o.left},0)`)
    .call(d3.axisLeft(y).tickValues(o.yTicks).tickFormat(d3.format(".1f"))
      .tickSizeInner(-8).tickSizeOuter(0).tickPadding(4));
  ya.select(".domain").remove();
  ya.selectAll(".tick line").attr("stroke", "#000").attr("stroke-width", 2.6);
  ya.selectAll(".tick text")
    .attr("font-family", SANS).attr("font-size", 19).attr("fill", "#111")
    .attr("dy", "0.36em")
    .call(squeeze, 0.74);

  // x axis (month ticks)
  const xa = g.append("g").attr("transform", `translate(0,${o.bottom})`)
    .call(d3.axisBottom(x).tickValues(monthTickDays)
      .tickFormat((d, i) => monthLabels[i])
      .tickSizeInner(-7).tickSizeOuter(0).tickPadding(0));
  xa.select(".domain").remove();
  xa.selectAll(".tick line").attr("stroke", "#333").attr("stroke-width", 1.3);
  xa.selectAll(".tick text")
    .attr("font-family", SANS).attr("font-size", 16).attr("fill", "#111")
    .attr("y", 17).attr("dy", 0)
    .call(squeeze, 0.80);

  // axis titles
  g.append("text")
    .attr("x", 556).attr("y", o.bottom + 40.5)
    .attr("text-anchor", "middle")
    .attr("font-family", SANS).attr("font-size", 20.5).attr("fill", "#111")
    .text(o.xTitle)
    .call(squeeze, 0.84);

  g.append("text")
    .attr("transform", `translate(${o.yTitleX},${(o.top + o.bottom) / 2}) scale(0.76,1) rotate(-90)`)
    .attr("text-anchor", "middle")
    .attr("font-family", SANS).attr("font-size", 23.5).attr("fill", "#111")
    .text(o.yTitle);

  // legend
  const L = o.legend;
  const lg = g.append("g");
  lg.append("rect")
    .attr("x", L.x + 2).attr("y", L.y + 2).attr("width", L.w).attr("height", L.h)
    .attr("rx", 3).attr("fill", "#9a9a9a").attr("opacity", 0.55);
  lg.append("rect")
    .attr("x", L.x).attr("y", L.y).attr("width", L.w).attr("height", L.h)
    .attr("rx", 3).attr("fill", "#fff").attr("stroke", "#cfcfcf").attr("stroke-width", 1);
  o.series.forEach((s, i) => {
    const cy = L.y + L.first + i * 20.67;
    lg.append("line")
      .attr("x1", L.x + 3.5).attr("x2", L.x + 24.5)
      .attr("y1", cy).attr("y2", cy)
      .attr("stroke", s.color).attr("stroke-width", s.width)
      .attr("stroke-dasharray", s.dash || null);
    lg.append("text")
      .attr("x", L.x + 32.5).attr("y", cy).attr("dy", "0.36em")
      .attr("font-family", SANS).attr("font-size", 14).attr("fill", "#111")
      .text(s.label)
      .call(squeeze, 0.73);
  });

  return { g, x, y };
}

function seriesSet(blue, red, black, green) {
  return [
    { data: blue,  color: "#0000ff", width: 1.8, dash: "5,2.2", label: legendLabels[0] },
    { data: red,   color: "#ff0000", width: 1.6, dash: "5,2.2", label: legendLabels[1] },
    { data: black, color: "#1a1a1a", width: 1.0, dash: null,    label: legendLabels[2] },
    { data: green, color: "#2e9a2e", width: 1.0, dash: null,    label: legendLabels[3] }
  ];
}

// upper panel: 2019
drawPanel({
  left: 60, right: 1053, top: 12, bottom: 368,
  xDomain: [-17.4, 383.2], yDomain: [-0.131, 3.047],
  yTicks: yTicks2019,
  series: seriesSet(aod1640_2019, aod340_2019, alpha2019, beta2019),
  xTitle: "Day Of the Year-2019", yTitle: "Pokhara 2019", yTitleX: 26.7,
  legend: { x: 943.3, y: 20, w: 105.7, h: 86, first: 10.7 }
});

// lower panel: 2020
const lower = drawPanel({
  left: 60, right: 1052, top: 494, bottom: 850,
  xDomain: [-15, 340], yDomain: [-0.123, 2.617],
  yTicks: yTicks2020,
  series: seriesSet(aod1640_2020, aod340_2020, alpha2020, beta2020),
  xTitle: "Day Of the Year-2020", yTitle: "Pokhara 2020", yTitleX: 29.3,
  legend: { x: 942.3, y: 501.7, w: 105.4, h: 86.6, first: 11.3 }
});

// lockdown marker
const xL = lower.x(lockdownDay2020);
const ann = lower.g.append("g");
const annColor = "#1414c4";
ann.append("line")
  .attr("x1", xL).attr("x2", xL).attr("y1", 502.7).attr("y2", 850)
  .attr("stroke", annColor).attr("stroke-width", 4.2);
const ay = 531;
ann.append("line")
  .attr("x1", xL + 30).attr("x2", xL + 142.4).attr("y1", ay).attr("y2", ay)
  .attr("stroke", annColor).attr("stroke-width", 1.6);
ann.append("path")
  .attr("d", `M${xL + 4.7},${ay} L${xL + 31.4},${ay - 20} L${xL + 31.4},${ay + 20} Z`)
  .attr("fill", annColor);
ann.selectAll("text.lock").data(lockdownText).enter().append("text")
  .attr("class", "lock")
  .attr("x", 503.3).attr("y", (d, i) => i === 0 ? 523.3 : 560)
  .attr("font-family", MONO).attr("font-size", 26.5).attr("fill", "#000")
  .text(d => d)
  .call(squeeze, 0.80);
</script>
</body>
</html>
